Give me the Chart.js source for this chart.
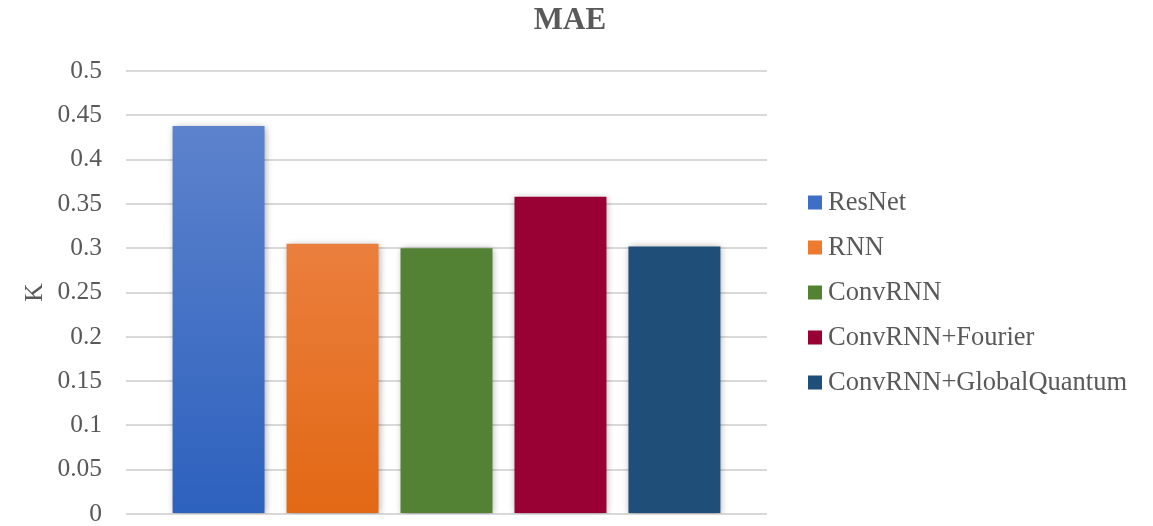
<!DOCTYPE html>
<html>
<head>
<meta charset="utf-8">
<script src="https://cdn.jsdelivr.net/npm/chart.js@4/dist/chart.umd.min.js"></script>
<style>
  html, body { margin: 0; padding: 0; background: #fff; }
</style>
</head>
<body>
<canvas id="maeChart"></canvas>
<script>
// Data
const models = ['ResNet', 'RNN', 'ConvRNN', 'ConvRNN+Fourier', 'ConvRNN+GlobalQuantum']
const maeValues = [0.438, 0.305, 0.300, 0.358, 0.302]
const yTicks = [0, 0.05, 0.1, 0.15, 0.2, 0.25, 0.3, 0.35, 0.4, 0.45, 0.5]

// bar colours: [top, bottom] – first two fade vertically
const barColors = [
    ['#6387ce', '#2d61be'],
    ['#f08d57', '#e26814'],
    ['#548235', '#548235'],
    ['#990033', '#990033'],
    ['#1f4e79', '#1f4e79'],
]
const legendColors = ['#3e6ec6', '#ee7a2f', '#548235', '#990033', '#1f4e79']

const GREY = '#595959'
const SERIF = '"Liberation Serif", "Times New Roman", serif'
const FONT_SIZE = 25.5
const LEGEND_FONT_SIZE = 26.5

function barFill(context) {
    const chart = context.chart
    const area = chart.chartArea
    const c = barColors[context.datasetIndex]
    if (!area) return c[1]
    const g = chart.ctx.createLinearGradient(0, area.top, 0, area.bottom)
    g.addColorStop(0, c[0])
    g.addColorStop(1, c[1])
    return g
}

// soft drop shadow under the bars
const barShadow = {
    id: 'barShadow',
    beforeDatasetsDraw(chart) {
        const ctx = chart.ctx
        ctx.save()
        ctx.shadowColor = 'rgba(0,0,0,0.35)'
        ctx.shadowBlur = 7
        ctx.shadowOffsetX = 1
        ctx.shadowOffsetY = 1
    },
    afterDatasetsDraw(chart) {
        chart.ctx.restore()
    }
}

// legend to the right: square marker + name, one per series
const sideLegend = {
    id: 'sideLegend',
    afterDraw(chart) {
        const ctx = chart.ctx
        const area = chart.chartArea
        const step = 45
        const x = area.right + 41
        const midY = (area.top + area.bottom) / 2
        ctx.save()
        ctx.font = LEGEND_FONT_SIZE + 'px ' + SERIF
        ctx.textBaseline = 'middle'
        ctx.textAlign = 'left'
        models.forEach((name, i) => {
            const y = midY + (i - (models.length - 1) / 2) * step
            ctx.fillStyle = legendColors[i]
            ctx.fillRect(x, y - 7, 14, 14)
            ctx.fillStyle = GREY
            ctx.fillText(name, x + 20, y + 1)
        })
        ctx.restore()
    }
}

const datasets = models.map((name, i) => ({
    label: name,
    data: [maeValues[i]],
    backgroundColor: barFill,
    borderWidth: 0,
    categoryPercentage: 0.889,
    barPercentage: 0.807,
}))

const config = {
    type: 'bar',
    data: {
        labels: [''],
        datasets: datasets
    },
    options: {
        responsive: false,
        animation: false,
        devicePixelRatio: 1,
        layout: { padding: { top: 0, right: 33, bottom: 0, left: 20 } },
        plugins: {
            title: {
                display: true,
                text: 'MAE',
                color: GREY,
                font: { family: SERIF, size: 31, weight: 'bold', lineHeight: 1.2 },
                padding: { top: 1.9, bottom: 31.9 },
            },
            legend: { display: false },
            tooltip: { enabled: false },
        },
        scales: {
            x: {
                display: false,
            },
            y: {
                min: 0,
                max: 0.5,
                afterBuildTicks: function(axis) {
                    axis.ticks = yTicks.map(v => ({ value: v }))
                },
                afterFit: function(axis) {
                    axis.width = 106
                    axis.paddingBottom = 12
                },
                ticks: {
                    color: GREY,
                    font: { family: SERIF, size: FONT_SIZE },
                    padding: 24,
                    callback: v => String(v),
                },
                grid: { color: '#d9d9d9', lineWidth: 2, drawTicks: false },
                border: { display: false },
                title: {
                    display: true,
                    text: 'K',
                    color: GREY,
                    font: { family: SERIF, size: FONT_SIZE },
                    padding: { top: 0, bottom: 6 },
                },
            },
            // empty right-hand strip that holds the legend
            legendSpace: {
                type: 'linear',
                position: 'right',
                grid: { display: false },
                border: { display: false },
                ticks: { display: false },
                afterFit: function(axis) {
                    axis.width = 353
                },
            }
        }
    },
    plugins: [barShadow, sideLegend]
}

const canvas = document.getElementById('maeChart')
canvas.width = 1153
canvas.height = 526
const maeChart = new Chart(canvas, config)
</script>
</body>
</html>
